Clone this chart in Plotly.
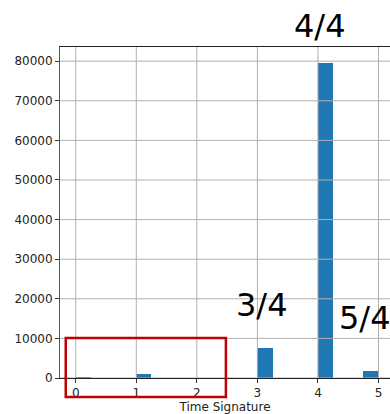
import numpy as np
import plotly.graph_objects as go

# Counts of tracks per time signature
time_signatures = [0, 1, 3, 4, 5]
track_counts = [200, 950, 7650, 79600, 1850]

# Histogram binning: 20 equal bins spanning 0..5
bin_edges = np.linspace(0, 5, 21)
bin_width = bin_edges[1] - bin_edges[0]
bin_idx = np.clip(np.digitize(time_signatures, bin_edges) - 1, 0, len(bin_edges) - 2)
bin_left = bin_edges[bin_idx]

x_ticks = [0, 1, 2, 3, 4, 5]
y_ticks = [0, 10000, 20000, 30000, 40000, 50000, 60000, 70000, 80000]

X_RANGE = [-0.26, 5.19]
Y_RANGE = [0, 83580]

# Large meter labels placed in data space
label_text = ["3/4", "4/4", "5/4"]
label_x = [3.07, 4.03, 4.77]
label_y = [18400, 88900, 15200]

# Highlight box around the rare signatures
box_x = [-0.165, 2.48]
box_y = [-4800, 10100]

FONT = "DejaVu Sans, Liberation Sans, sans-serif"


def to_paper(v, rng):
    return (v - rng[0]) / (rng[1] - rng[0])


fig = go.Figure(
    go.Bar(
        x=bin_left + bin_width / 2,
        y=track_counts,
        width=bin_width,
        marker=dict(color="#1f77b4", line=dict(width=0)),
        hoverinfo="x+y",
    )
)

shapes = []
grid_style = dict(color="#b0b0b0", width=1)
for yv in y_ticks:
    shapes.append(dict(type="line", xref="paper", yref="y", x0=0, x1=1, y0=yv, y1=yv,
                       line=grid_style, layer="above"))
for xv in x_ticks:
    shapes.append(dict(type="line", xref="x", yref="paper", x0=xv, x1=xv, y0=0, y1=1,
                       line=grid_style, layer="above"))
shapes.append(dict(type="rect", xref="paper", yref="paper",
                   x0=to_paper(box_x[0], X_RANGE), x1=to_paper(box_x[1], X_RANGE),
                   y0=to_paper(box_y[0], Y_RANGE), y1=to_paper(box_y[1], Y_RANGE),
                   line=dict(color="#c00000", width=2.5),
                   fillcolor="rgba(0,0,0,0)", layer="above"))

annotations = [
    dict(x=to_paper(x, X_RANGE), y=to_paper(y, Y_RANGE), xref="paper", yref="paper",
         text=t, showarrow=False,
         font=dict(family=FONT, size=32, color="black"), xanchor="center", yanchor="middle")
    for t, x, y in zip(label_text, label_x, label_y)
]

fig.update_layout(
    width=390,
    height=414,
    margin=dict(l=60, r=0, t=47, b=36),
    plot_bgcolor="white",
    paper_bgcolor="white",
    showlegend=False,
    bargap=0,
    font=dict(family=FONT, size=12, color="#222"),
    shapes=shapes,
    annotations=annotations,
    xaxis=dict(
        range=X_RANGE,
        tickmode="array",
        tickvals=x_ticks,
        ticks="outside",
        ticklen=4,
        tickcolor="#333",
        showgrid=False,
        zeroline=False,
        showline=True,
        linecolor="#222",
        linewidth=1,
        mirror=True,
        title=dict(text="Time Signature", font=dict(size=12, color="#222"), standoff=3),
    ),
    yaxis=dict(
        range=Y_RANGE,
        tickmode="array",
        tickvals=y_ticks,
        ticktext=[str(v) for v in y_ticks],
        ticks="outside",
        ticklen=4,
        tickcolor="#333",
        showgrid=False,
        zeroline=False,
        showline=True,
        linecolor="#555",
        linewidth=1,
        mirror=False,
    ),
)

fig.write_html("out.html")
